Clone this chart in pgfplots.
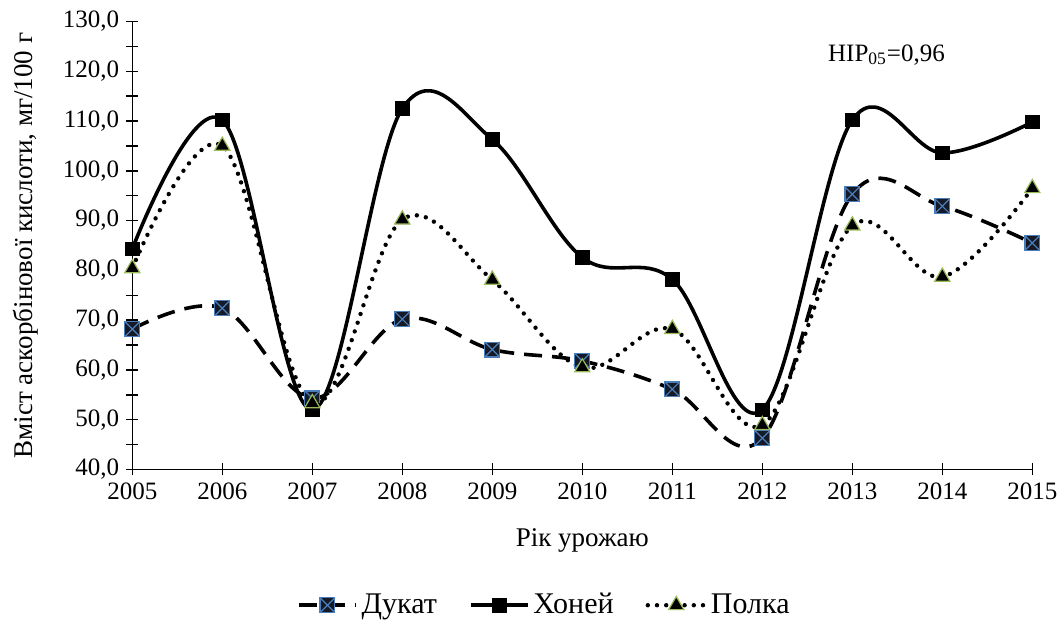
\documentclass[border=0pt]{standalone}
\usepackage{pgfplots}
\pgfplotsset{compat=1.18}
\usepackage{fontspec}
\setmainfont{Liberation Serif}
\definecolor{dukblue}{HTML}{4A7EBB}
\definecolor{dukfill}{HTML}{151A26}
\definecolor{polgreen}{HTML}{9BBB59}
\pgfdeclareplotmark{boxx}{%
  \pgfpathrectangle{\pgfqpoint{-\pgfplotmarksize}{-\pgfplotmarksize}}{\pgfqpoint{2\pgfplotmarksize}{2\pgfplotmarksize}}%
  \pgfusepathqfillstroke
  \pgfpathmoveto{\pgfqpoint{-\pgfplotmarksize}{-\pgfplotmarksize}}%
  \pgfpathlineto{\pgfqpoint{\pgfplotmarksize}{\pgfplotmarksize}}%
  \pgfpathmoveto{\pgfqpoint{-\pgfplotmarksize}{\pgfplotmarksize}}%
  \pgfpathlineto{\pgfqpoint{\pgfplotmarksize}{-\pgfplotmarksize}}%
  \pgfusepathqstroke}
\begin{document}
\begin{tikzpicture}
\path[use as bounding box] (-66.15pt,-85.25pt) rectangle ++(528.5pt,320pt);
\begin{axis}[
  at={(0,0)}, anchor=south west,
  scale only axis, width=450pt, height=224pt,
  xmin=2005, xmax=2015, ymin=40, ymax=130,
  axis x line=bottom, axis y line=left,
  axis line style={-, line width=0.7pt},
  tick style={line width=0.7pt, black},
  tick align=center, major tick length=6pt, minor tick length=6pt,
  xtick={2005,2006,...,2015},
  xticklabels={2005,2006,2007,2008,2009,2010,2011,2012,2013,2014,2015},
  ytick={40,50,...,130},
  yticklabels={{40,0},{50,0},{60,0},{70,0},{80,0},{90,0},{100,0},{110,0},{120,0},{130,0}},
  minor ytick={45,55,...,125},
  x tick label style={font=\fontsize{12.5}{15}\selectfont},
  y tick label style={font=\fontsize{12.5}{15}\selectfont},
  xlabel={Рік урожаю},
  ylabel={Вміст аскорбінової кислоти, мг/100 г},
  xlabel style={at={(axis description cs:0.5,-0.158)}, anchor=center, font=\fontsize{13.5}{16}\selectfont},
  ylabel style={at={(axis description cs:-0.118,0.5)}, anchor=center, font=\fontsize{13.5}{16}\selectfont},
  legend style={at={(axis description cs:0.459,-0.303)}, anchor=center, draw=none,
    legend columns=3, font=\fontsize{15}{18}\selectfont,
    /tikz/every even column/.append style={column sep=14pt}},
  legend image code/.code={\draw[mark repeat=2,mark phase=2,#1] plot coordinates {(0cm,0cm)(0.5cm,0cm)(1cm,0cm)};},
  clip=false,
]
\addplot[smooth, tension=0.6, black, line width=1.8pt, dash pattern=on 9pt off 5pt,
  mark=boxx, mark size=3.7pt, mark options={solid, line width=0.6pt, draw=dukblue, fill=dukfill}]
  coordinates {(2005,68.2)(2006,72.4)(2007,54.3)(2008,70.2)(2009,64.1)(2010,61.8)(2011,56.1)(2012,46.3)(2013,95.3)(2014,92.9)(2015,85.5)};
\addlegendentry{Дукат}
\addplot[smooth, tension=0.6, black, line width=1.8pt,
  mark=square*, mark size=3.4pt, mark options={solid, line width=0.4pt, fill=black}]
  coordinates {(2005,84.3)(2006,110.2)(2007,52.0)(2008,112.5)(2009,106.3)(2010,82.6)(2011,78.2)(2012,52.0)(2013,110.2)(2014,103.6)(2015,109.8)};
\addlegendentry{Хоней}
\addplot[smooth, tension=0.6, black, line width=2.2pt, line cap=round, dash pattern=on 0pt off 4.6pt,
  mark=triangle*, mark size=4.4pt, mark options={solid, line width=0.6pt, draw=polgreen, fill=black}]
  coordinates {(2005,80.4)(2006,105.0)(2007,53.3)(2008,90.2)(2009,78.1)(2010,60.5)(2011,68.2)(2012,48.9)(2013,89.0)(2014,78.7)(2015,96.5)};
\addlegendentry{Полка}
\node[font=\fontsize{12.5}{15}\selectfont] at (axis cs:2013.38,123.3) {НІР\textsubscript{05}=0,96};
\end{axis}
\end{tikzpicture}
\end{document}
